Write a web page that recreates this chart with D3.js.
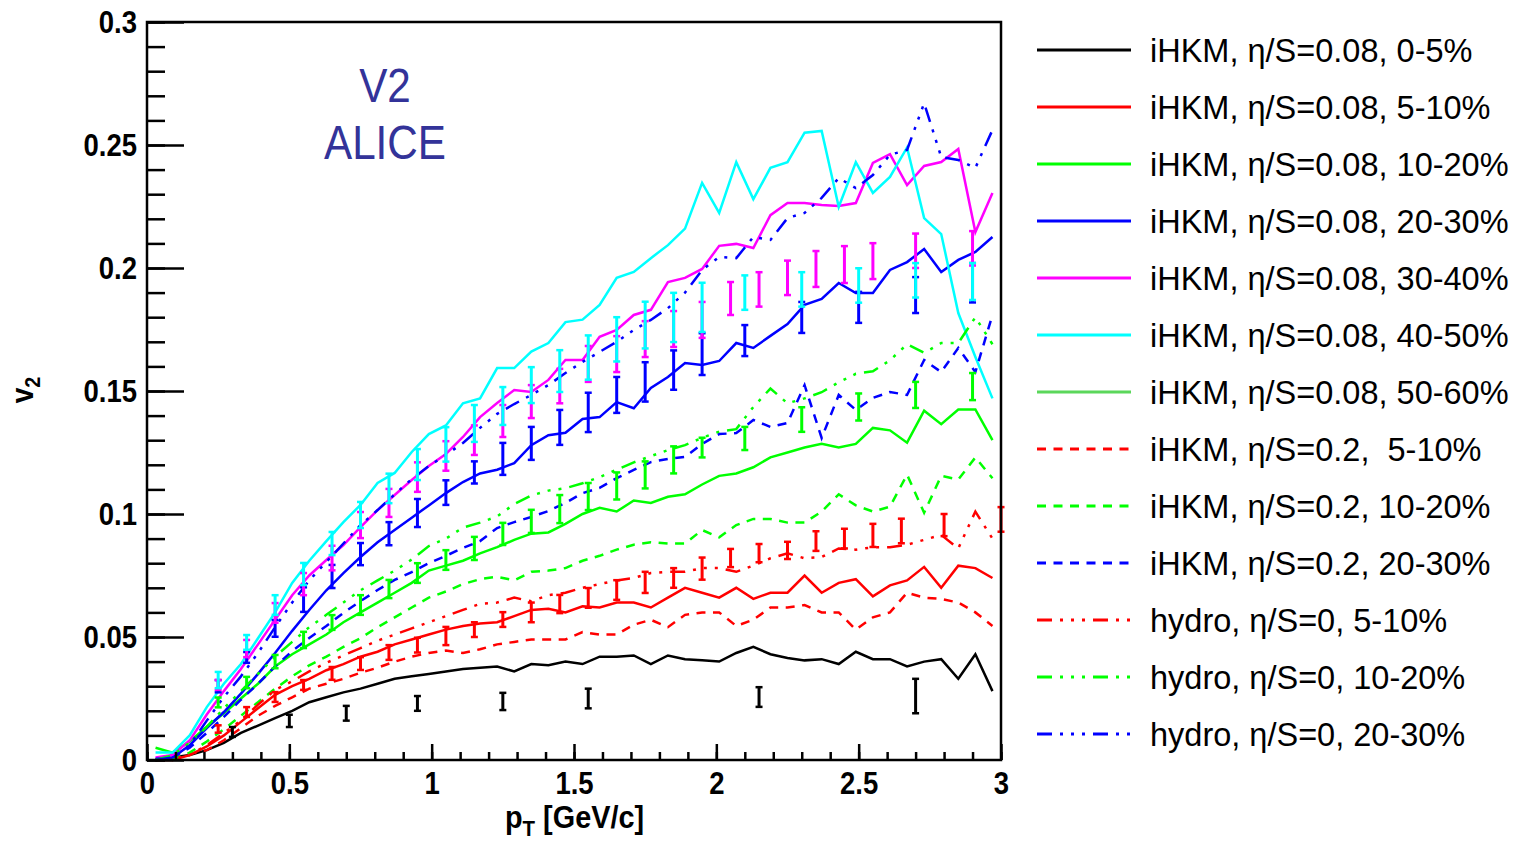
<!DOCTYPE html>
<html>
<head>
<meta charset="utf-8">
<script src="https://cdn.jsdelivr.net/npm/d3@7"></script>
<style>
body { margin: 0; background: #fff; }
svg text { font-family: "Liberation Sans", Arial, sans-serif; }
</style>
</head>
<body>
<svg id="chart" width="1525" height="841"></svg>
<script>
// model curves, 50 pT bins
const pt = [0.03,0.09,0.15,0.21,0.27,0.33,0.39,0.45,0.51,0.57,0.63,0.69,0.75,0.81,0.87,0.93,0.99,1.05,1.11,1.17,1.23,1.29,1.35,1.41,1.47,1.53,1.59,1.65,1.71,1.77,1.83,1.89,1.95,2.01,2.07,2.13,2.19,2.25,2.31,2.37,2.43,2.49,2.55,2.61,2.67,2.73,2.79,2.85,2.91,2.97];

const ihkm008_0_5   = [0.000,0.001,0.002,0.004,0.007,0.011,0.014,0.017,0.020,0.0235,0.0255,0.0275,0.029,0.031,0.033,0.034,0.035,0.036,0.037,0.0375,0.038,0.036,0.039,0.0385,0.040,0.039,0.042,0.042,0.0425,0.039,0.0425,0.041,0.0405,0.040,0.0435,0.046,0.043,0.0415,0.0405,0.041,0.039,0.044,0.041,0.041,0.038,0.040,0.041,0.033,0.043,0.028];
const ihkm008_5_10  = [0,0,0.002,0.0055,0.010,0.0155,0.021,0.0265,0.030,0.033,0.0365,0.039,0.042,0.044,0.047,0.049,0.051,0.053,0.0545,0.0555,0.056,0.0585,0.061,0.0615,0.060,0.0625,0.062,0.064,0.064,0.062,0.066,0.070,0.068,0.066,0.070,0.0655,0.068,0.068,0.075,0.068,0.072,0.0735,0.0665,0.071,0.073,0.0785,0.070,0.079,0.078,0.074];
const ihkm008_10_20 = [0.005,0.003,0.0075,0.0135,0.019,0.025,0.031,0.038,0.043,0.047,0.051,0.056,0.060,0.064,0.068,0.072,0.077,0.079,0.081,0.084,0.0865,0.0895,0.092,0.0925,0.096,0.100,0.1025,0.101,0.1055,0.1045,0.107,0.108,0.112,0.1155,0.1165,0.119,0.123,0.125,0.127,0.1285,0.127,0.1285,0.135,0.134,0.129,0.142,0.1365,0.1425,0.1425,0.130];
const ihkm008_20_30 = [0,0.001,0.006,0.013,0.0195,0.027,0.035,0.0435,0.0525,0.061,0.069,0.076,0.0825,0.0885,0.0935,0.0985,0.1035,0.1085,0.113,0.1165,0.118,0.1207,0.128,0.132,0.133,0.1386,0.1394,0.1455,0.143,0.1512,0.1557,0.1614,0.1606,0.1622,0.1695,0.1675,0.1724,0.1772,0.185,0.1874,0.1939,0.1898,0.1898,0.1992,0.2024,0.2077,0.1984,0.2033,0.2065,0.2126];
const ihkm008_30_40 = [0.001,0.002,0.008,0.0185,0.028,0.037,0.047,0.057,0.067,0.075,0.0813,0.0874,0.0947,0.1016,0.1077,0.1138,0.1195,0.1244,0.1313,0.1394,0.1451,0.1504,0.1496,0.1545,0.1626,0.1626,0.172,0.1748,0.1809,0.183,0.1943,0.196,0.1996,0.209,0.2098,0.2081,0.2215,0.2264,0.2264,0.2256,0.2252,0.2264,0.2427,0.2463,0.2337,0.2415,0.2431,0.2484,0.2146,0.2305];
const ihkm008_40_50 = [0.003,0.003,0.010,0.0215,0.031,0.039,0.0495,0.060,0.072,0.081,0.089,0.0967,0.1037,0.1126,0.1167,0.1252,0.1325,0.136,0.145,0.147,0.1593,0.1593,0.166,0.1695,0.178,0.179,0.185,0.196,0.1984,0.204,0.2093,0.216,0.2346,0.2224,0.243,0.228,0.2407,0.243,0.255,0.2557,0.2248,0.243,0.2305,0.237,0.249,0.2203,0.2138,0.1817,0.1638,0.147];
const ihkm02_5_10   = [0,0,0.0025,0.004,0.008,0.013,0.018,0.022,0.0255,0.029,0.031,0.033,0.0355,0.0375,0.040,0.042,0.0435,0.0445,0.0435,0.045,0.047,0.048,0.049,0.049,0.049,0.052,0.051,0.051,0.055,0.057,0.054,0.059,0.060,0.060,0.0545,0.057,0.062,0.062,0.063,0.060,0.060,0.053,0.058,0.060,0.068,0.066,0.0655,0.064,0.060,0.0545];
const ihkm02_10_20  = [0,0.0005,0.003,0.0075,0.0125,0.018,0.0235,0.029,0.034,0.0385,0.042,0.046,0.0495,0.054,0.058,0.062,0.066,0.0685,0.0715,0.0735,0.0745,0.073,0.0765,0.077,0.078,0.081,0.083,0.0855,0.0875,0.0885,0.088,0.088,0.0935,0.0905,0.0955,0.098,0.098,0.0965,0.0965,0.101,0.108,0.1035,0.101,0.103,0.116,0.1005,0.1155,0.114,0.123,0.1145];
const ihkm02_20_30  = [0.0005,0.001,0.005,0.011,0.0175,0.0245,0.031,0.038,0.0443,0.0496,0.0545,0.0598,0.0646,0.0691,0.0732,0.0764,0.080,0.083,0.0862,0.089,0.0943,0.0967,0.0988,0.1012,0.1045,0.1085,0.1106,0.1146,0.1179,0.1211,0.1224,0.1232,0.1285,0.1325,0.1329,0.1382,0.1354,0.137,0.1524,0.1309,0.1484,0.1423,0.1472,0.1496,0.1484,0.1626,0.1577,0.1675,0.1577,0.1809];
const hydro_5_10    = [0,0.0005,0.002,0.006,0.011,0.016,0.0225,0.0285,0.032,0.036,0.0395,0.0425,0.0455,0.0485,0.051,0.0535,0.056,0.0585,0.061,0.0635,0.064,0.066,0.0645,0.067,0.068,0.070,0.0715,0.073,0.074,0.076,0.0765,0.0765,0.078,0.078,0.0765,0.079,0.082,0.084,0.082,0.0825,0.086,0.0855,0.0865,0.0865,0.0875,0.0895,0.0915,0.086,0.101,0.090];
const hydro_10_20   = [0,0.002,0.007,0.0135,0.021,0.028,0.035,0.042,0.048,0.054,0.059,0.064,0.069,0.073,0.077,0.0815,0.087,0.090,0.0945,0.0965,0.099,0.104,0.1075,0.1095,0.1105,0.1125,0.115,0.118,0.121,0.1235,0.126,0.128,0.131,0.1335,0.1345,0.1435,0.151,0.145,0.147,0.1495,0.1535,0.157,0.158,0.1625,0.169,0.1655,0.1695,0.1695,0.180,0.169];
const hydro_20_30   = [0,0.001,0.006,0.016,0.0256,0.034,0.0435,0.054,0.064,0.073,0.0805,0.088,0.0955,0.1016,0.108,0.1142,0.1195,0.124,0.1289,0.135,0.1407,0.1447,0.1484,0.1524,0.1573,0.1618,0.1659,0.170,0.1748,0.1789,0.1837,0.190,0.1992,0.2045,0.204,0.2126,0.2114,0.2203,0.2224,0.2285,0.2366,0.2325,0.2378,0.246,0.248,0.267,0.2451,0.2439,0.2407,0.2561];

// ALICE data points (error bars only)
const ptData0_5 = [0.30,0.50,0.70,0.95,1.25,1.55,2.15,2.70];
const v2Data0_5 = [0.0114,0.0159,0.019,0.023,0.0238,0.025,0.0256,0.026];
const errData0_5 = [0.002,0.0025,0.003,0.003,0.0035,0.004,0.004,0.007];

const ptData5_10 = [0.25,0.35,0.45,0.55,0.65,0.75,0.85,0.95,1.05,1.15,1.25,1.35,1.45,1.55,1.65,1.75,1.85,1.95,2.05,2.15,2.25,2.35,2.45,2.55,2.65,2.8,3.0];
const v2Data5_10 = [0.0126,0.0195,0.0256,0.0305,0.0352,0.0392,0.0437,0.0467,0.0504,0.053,0.0571,0.060,0.0634,0.0659,0.0691,0.0722,0.074,0.0778,0.0821,0.0841,0.0852,0.089,0.090,0.0913,0.0931,0.0955,0.0978];
const errData5_10 = [0.0015,0.002,0.002,0.002,0.0026,0.0026,0.003,0.003,0.0037,0.003,0.003,0.004,0.0037,0.004,0.004,0.0043,0.004,0.0045,0.0037,0.0037,0.0035,0.004,0.004,0.0047,0.005,0.0045,0.005];

const ptData10_50 = [0.25,0.35,0.45,0.55,0.65,0.75,0.85,0.95,1.05,1.15,1.25,1.35,1.45,1.55,1.65,1.75,1.85,1.95,2.1,2.3,2.5,2.7,2.9];
const v2Data10_20 = [0.0234,0.0315,0.040,0.0488,0.0559,0.063,0.0695,0.076,0.0813,0.086,0.0919,0.097,0.102,0.1071,0.1114,0.1159,0.122,0.127,0.1307,0.1384,0.1435,0.1484,0.1518];
const errData10_20 = [0.002,0.0023,0.0027,0.0033,0.003,0.004,0.0037,0.004,0.004,0.0047,0.0045,0.0047,0.0057,0.0055,0.0055,0.0055,0.0055,0.004,0.0047,0.005,0.0055,0.0053,0.0055];
const v2Data20_30 = [0.030,0.0417,0.0535,0.0652,0.0746,0.0837,0.092,0.1004,0.1087,0.1169,0.1224,0.1287,0.1352,0.1413,0.1484,0.1537,0.1585,0.165,0.1705,0.1799,0.184,0.189,0.194];
const errData20_30 = [0.0025,0.0022,0.0034,0.005,0.0047,0.0045,0.0047,0.0057,0.005,0.0045,0.0065,0.0067,0.0071,0.008,0.0073,0.008,0.008,0.0085,0.0063,0.0063,0.0063,0.0073,0.008];
const v2Data40_50 = [0.0325,0.0478,0.063,0.0756,0.088,0.0996,0.1104,0.1201,0.1283,0.1368,0.1439,0.1524,0.1581,0.1636,0.171,0.1768,0.1799,0.184,0.190,0.1913,0.1929,0.195,0.1945];
const errData40_50 = [0.0033,0.003,0.004,0.0045,0.0047,0.0053,0.006,0.0063,0.007,0.0075,0.0077,0.0073,0.0085,0.009,0.009,0.0095,0.01,0.01,0.007,0.007,0.007,0.007,0.0075];

const ptData30_40 = [0.25,0.35,0.45,0.55,0.65,0.75,0.85,0.95,1.05,1.15,1.25,1.35,1.45,1.55,1.65,1.75,1.85,1.95,2.05,2.15,2.25,2.35,2.45,2.55,2.7,2.9];
const v2Data30_40 = [0.0305,0.0453,0.0598,0.0715,0.0821,0.0955,0.1045,0.115,0.1236,0.130,0.1378,0.1457,0.152,0.161,0.165,0.1711,0.1752,0.1789,0.1876,0.1913,0.196,0.1996,0.2014,0.2028,0.207,0.208];
const errData30_40 = [0.002,0.0035,0.004,0.0045,0.005,0.0053,0.0057,0.006,0.006,0.006,0.0065,0.0067,0.007,0.0073,0.0073,0.0073,0.0073,0.0073,0.0067,0.007,0.007,0.0073,0.0075,0.0073,0.007,0.007];

const xTicks = [0, 0.5, 1, 1.5, 2, 2.5, 3];
const xTickLabels = ["0", "0.5", "1", "1.5", "2", "2.5", "3"];
const yTicks = [0, 0.05, 0.1, 0.15, 0.2, 0.25, 0.3];
const yTickLabels = ["0", "0.05", "0.1", "0.15", "0.2", "0.25", "0.3"];

const legendLabels = [
    "iHKM, \u03b7/S=0.08, 0-5%",
    "iHKM, \u03b7/S=0.08, 5-10%",
    "iHKM, \u03b7/S=0.08, 10-20%",
    "iHKM, \u03b7/S=0.08, 20-30%",
    "iHKM, \u03b7/S=0.08, 30-40%",
    "iHKM, \u03b7/S=0.08, 40-50%",
    "iHKM, \u03b7/S=0.08, 50-60%",
    "iHKM, \u03b7/S=0.2,  5-10%",
    "iHKM, \u03b7/S=0.2, 10-20%",
    "iHKM, \u03b7/S=0.2, 20-30%",
    "hydro, \u03b7/S=0, 5-10%",
    "hydro, \u03b7/S=0, 10-20%",
    "hydro, \u03b7/S=0, 20-30%"
];

const BLACK = "#000000", RED = "#ff0000", GREEN = "#00ff00", BLUE = "#0000ff",
      MAGENTA = "#ff00ff", CYAN = "#00ffff", GREEN2 = "#5bd75b";
const DASH = "9,7.5", DASHDOT = "15,8,3,8,3,8,3,8";

const legendColors = [BLACK, RED, GREEN, BLUE, MAGENTA, CYAN, GREEN2, RED, GREEN, BLUE, RED, GREEN, BLUE];
const legendDash = [null, null, null, null, null, null, null, DASH, DASH, DASH, DASHDOT, DASHDOT, DASHDOT];

// curves in drawing order
const curves = [
    { v: ihkm008_0_5, color: BLACK, dash: null },
    { v: ihkm008_5_10, color: RED, dash: null },
    { v: ihkm008_10_20, color: GREEN, dash: null },
    { v: ihkm008_20_30, color: BLUE, dash: null },
    { v: ihkm008_30_40, color: MAGENTA, dash: null },
    { v: ihkm008_40_50, color: CYAN, dash: null },
    { v: ihkm02_5_10, color: RED, dash: DASH },
    { v: ihkm02_10_20, color: GREEN, dash: DASH },
    { v: ihkm02_20_30, color: BLUE, dash: DASH },
    { v: hydro_5_10, color: RED, dash: DASHDOT },
    { v: hydro_10_20, color: GREEN, dash: DASHDOT },
    { v: hydro_20_30, color: BLUE, dash: DASHDOT }
];

const dataSets = [
    { pt: ptData0_5, v: v2Data0_5, e: errData0_5, color: BLACK },
    { pt: ptData5_10, v: v2Data5_10, e: errData5_10, color: RED },
    { pt: ptData10_50, v: v2Data10_20, e: errData10_20, color: GREEN },
    { pt: ptData10_50, v: v2Data20_30, e: errData20_30, color: BLUE },
    { pt: ptData30_40, v: v2Data30_40, e: errData30_40, color: MAGENTA },
    { pt: ptData10_50, v: v2Data40_50, e: errData40_50, color: CYAN }
];

const svg = d3.select("#chart");
const plotLeft = 147, plotRight = 1001, plotTop = 22, plotBottom = 760;

const x = d3.scaleLinear().domain([0, 3]).range([plotLeft, plotRight]);
const y = d3.scaleLinear().domain([0, 0.3]).range([plotBottom, plotTop]);

// curves
const line = d3.line()
    .x((d, i) => x(pt[i]))
    .y(d => y(d));

svg.append("g")
    .selectAll("path")
    .data(curves)
    .join("path")
    .attr("d", d => line(d.v))
    .attr("fill", "none")
    .attr("stroke", d => d.color)
    .attr("stroke-width", 2.5)
    .attr("stroke-dasharray", d => d.dash)
;

// error bars
const bars = svg.append("g");
dataSets.forEach(s => {
    const pts = s.pt.map((p, i) => ({ p: p, v: s.v[i], e: s.e[i] }));
    const g = bars.append("g").attr("stroke", s.color);
    g.selectAll("line.bar")
        .data(pts)
        .join("line")
        .attr("class", "bar")
        .attr("x1", d => x(d.p)).attr("x2", d => x(d.p))
        .attr("y1", d => y(d.v - d.e)).attr("y2", d => y(d.v + d.e))
        .attr("stroke-width", 3);
    g.selectAll("line.capTop")
        .data(pts)
        .join("line")
        .attr("class", "capTop")
        .attr("x1", d => x(d.p) - 3.5).attr("x2", d => x(d.p) + 3.5)
        .attr("y1", d => y(d.v + d.e)).attr("y2", d => y(d.v + d.e))
        .attr("stroke-width", 2.5);
    g.selectAll("line.capBot")
        .data(pts)
        .join("line")
        .attr("class", "capBot")
        .attr("x1", d => x(d.p) - 3.5).attr("x2", d => x(d.p) + 3.5)
        .attr("y1", d => y(d.v - d.e)).attr("y2", d => y(d.v - d.e))
        .attr("stroke-width", 2.5);
});

// axes
function styleAxis(g) {
    g.select(".domain").remove();
    g.selectAll(".tick line").attr("stroke", "#000").attr("stroke-width", 2.5);
    g.selectAll(".tick text")
        .attr("fill", "#000")
        .style("font-size", "32px")
        .style("font-weight", "bold");
}

svg.append("g")
    .attr("transform", `translate(${plotLeft},0)`)
    .call(d3.axisLeft(y).tickValues(y.ticks(30)).tickSize(-18).tickFormat(""))
    .call(styleAxis);

const yAxis = svg.append("g")
    .attr("transform", `translate(${plotLeft},0)`)
    .call(d3.axisLeft(y).tickValues(yTicks).tickSizeInner(-37).tickSizeOuter(0).tickPadding(10)
        .tickFormat((d, i) => yTickLabels[i]))
    .call(styleAxis);
yAxis.selectAll(".tick text")
    .attr("transform", "translate(-10,0) scale(0.86,1) translate(10,0)");

svg.append("g")
    .attr("transform", `translate(0,${plotBottom})`)
    .call(d3.axisBottom(x).tickValues(x.ticks(30)).tickSize(-8).tickFormat(""))
    .call(styleAxis);

const xAxis = svg.append("g")
    .attr("transform", `translate(0,${plotBottom})`)
    .call(d3.axisBottom(x).tickValues(xTicks).tickSizeInner(-16).tickSizeOuter(0).tickPadding(11)
        .tickFormat((d, i) => xTickLabels[i]))
    .call(styleAxis);
xAxis.selectAll(".tick text").attr("transform", "scale(0.86,1)");

// frame
svg.append("rect")
    .attr("x", plotLeft).attr("y", plotTop)
    .attr("width", plotRight - plotLeft).attr("height", plotBottom - plotTop)
    .attr("fill", "none")
    .attr("stroke", "#000")
    .attr("stroke-width", 2.5);

// axis titles
const xTitle = svg.append("text")
    .attr("transform", "translate(505,828) scale(0.93,1)")
    .style("font-size", "31px")
    .style("font-weight", "bold");
xTitle.append("tspan").text("p");
xTitle.append("tspan").attr("dy", 8).style("font-size", "22px").text("T");
xTitle.append("tspan").attr("dy", -8).style("white-space", "pre").text(" [GeV/c]");

const yTitle = svg.append("text")
    .attr("transform", "translate(33,390) rotate(-90) scale(0.9,1)")
    .attr("text-anchor", "middle")
    .style("font-size", "31px")
    .style("font-weight", "bold");
yTitle.append("tspan").text("v");
yTitle.append("tspan").attr("dy", 7).style("font-size", "22px").text("2");

// in-plot label
svg.append("text")
    .attr("transform", "translate(385,102) scale(0.88,1)")
    .attr("text-anchor", "middle")
    .attr("fill", "#333399")
    .style("font-size", "48px")
    .text("V2");
svg.append("text")
    .attr("transform", "translate(385,159) scale(0.88,1)")
    .attr("text-anchor", "middle")
    .attr("fill", "#333399")
    .style("font-size", "48px")
    .text("ALICE");

// legend
const legend = svg.append("g")
    .selectAll("g")
    .data(legendLabels)
    .join("g")
    .attr("transform", (d, i) => `translate(0,${50 + i * 57})`);

legend.append("line")
    .attr("x1", 1037).attr("x2", 1131)
    .attr("y1", 0).attr("y2", 0)
    .attr("stroke", (d, i) => legendColors[i])
    .attr("stroke-width", 3)
    .attr("stroke-dasharray", (d, i) => legendDash[i]);

legend.append("text")
    .attr("x", 1150).attr("y", 12)
    .style("font-size", "32.5px")
    .style("white-space", "pre")
    .attr("fill", "#000")
    .text(d => d);
</script>
</body>
</html>
